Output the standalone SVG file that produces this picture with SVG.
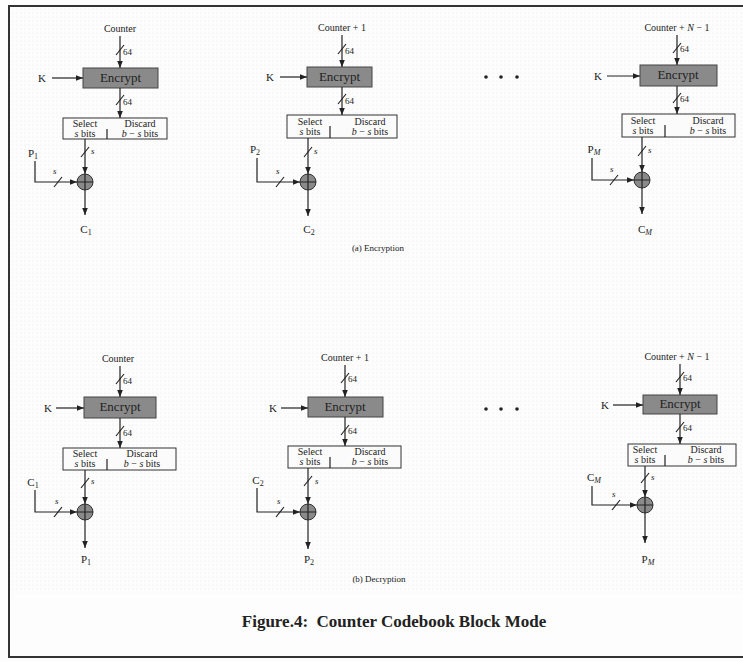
<svg xmlns="http://www.w3.org/2000/svg" width="743" height="662" viewBox="0 0 743 662">
<defs>
<marker id="ah" viewBox="0 0 10 10" refX="10" refY="5" markerWidth="7" markerHeight="7" markerUnits="userSpaceOnUse" orient="auto"><path d="M0,1 L10,5 L0,9 z" fill="#222"/></marker>
<pattern id="dots" width="4" height="4" patternUnits="userSpaceOnUse"><circle cx="1" cy="1" r="0.6" fill="#cfcfcf"/></pattern>
<style>
.t{font-family:"Liberation Serif",serif;font-size:10px;fill:#222;text-anchor:middle}
.l{font-family:"Liberation Serif",serif;font-size:11px;fill:#222;text-anchor:middle}
.s{font-family:"Liberation Serif",serif;font-size:9px;fill:#222}
.enc{fill:#8a8a8a;stroke:#444;stroke-width:1}
.et{font-family:"Liberation Serif",serif;font-size:13px;fill:#222;text-anchor:middle}
.sel{fill:#fbfbfb;stroke:#333;stroke-width:1}
.ln{stroke:#222;stroke-width:1.2;fill:none}
.ar{stroke:#222;stroke-width:1.2;fill:none;marker-end:url(#ah)}
.x{fill:#8a8a8a;stroke:#333;stroke-width:1}
.cap{font-family:"Liberation Serif",serif;font-size:17px;font-weight:bold;fill:#222;text-anchor:middle}
</style>
</defs>
<rect width="743" height="662" fill="#fdfdfd"/>
<rect x="10" y="8" width="733" height="585" fill="url(#dots)" opacity="0.5"/>
<rect x="9" y="6" width="745" height="651" fill="none" stroke="#333" stroke-width="2"/>

<g id="enc1">
<text class="t" x="120" y="32">Counter</text>
<rect class="enc" x="83" y="68" width="75" height="20"/>
<text class="et" x="120.5" y="82">Encrypt</text>
<text class="l" x="42" y="82">K</text>
<rect class="sel" x="63" y="118" width="104" height="21"/>
<line class="ln" x1="107" y1="129" x2="107" y2="139"/>
<text class="t" x="85" y="127">Select</text>
<text class="t" x="85" y="137"><tspan font-style="italic">s</tspan> bits</text>
<text class="t" x="140" y="127">Discard</text>
<text class="t" x="140" y="137"><tspan font-style="italic">b</tspan> − <tspan font-style="italic">s</tspan> bits</text>
<circle class="x" cx="85" cy="182" r="8"/>
<path class="ln" d="M77,182 H93 M85,174 V190"/>
<text class="l" x="33" y="157">P<tspan font-size="8" dy="2">1</tspan></text>
<text class="l" x="86" y="233">C<tspan font-size="8" dy="2">1</tspan></text>
</g>

<g id="enc2">
<text class="t" x="342" y="31">Counter + 1</text>
<rect class="enc" x="307" y="67" width="65" height="20"/>
<text class="et" x="339.5" y="81">Encrypt</text>
<text class="l" x="270" y="81">K</text>
<rect class="sel" x="287" y="115" width="110" height="23"/>
<line class="ln" x1="330" y1="126" x2="330" y2="138"/>
<text class="t" x="310" y="125">Select</text>
<text class="t" x="310" y="135"><tspan font-style="italic">s</tspan> bits</text>
<text class="t" x="370" y="125">Discard</text>
<text class="t" x="370" y="135"><tspan font-style="italic">b</tspan> − <tspan font-style="italic">s</tspan> bits</text>
<circle class="x" cx="308" cy="182" r="8"/>
<path class="ln" d="M300,182 H316 M308,174 V190"/>
<text class="l" x="255" y="153">P<tspan font-size="8" dy="2">2</tspan></text>
<text class="l" x="309" y="233">C<tspan font-size="8" dy="2">2</tspan></text>
</g>

<g id="enc3">
<text class="t" x="677" y="31">Counter + <tspan font-style="italic">N</tspan> − 1</text>
<rect class="enc" x="640" y="65" width="77" height="21"/>
<text class="et" x="678" y="79">Encrypt</text>
<text class="l" x="598" y="80">K</text>
<rect class="sel" x="622" y="114" width="113" height="23"/>
<line class="ln" x1="665" y1="125" x2="665" y2="137"/>
<text class="t" x="643" y="124">Select</text>
<text class="t" x="643" y="134"><tspan font-style="italic">s</tspan> bits</text>
<text class="t" x="708" y="124">Discard</text>
<text class="t" x="708" y="134"><tspan font-style="italic">b</tspan> − <tspan font-style="italic">s</tspan> bits</text>
<circle class="x" cx="642" cy="180" r="8"/>
<path class="ln" d="M634,180 H650 M642,172 V188"/>
<text class="l" x="594" y="153">P<tspan font-size="8" dy="2" font-style="italic">M</tspan></text>
<text class="l" x="645" y="233">C<tspan font-size="8" dy="2" font-style="italic">M</tspan></text>
</g>

<g id="dots-a" fill="#222">
<circle cx="486" cy="77" r="1.8"/><circle cx="501" cy="77" r="1.8"/><circle cx="517" cy="77" r="1.8"/>
</g>
<text class="s" x="378" y="251" text-anchor="middle">(a) Encryption</text>

<g id="dec1">
<text class="t" x="118" y="362">Counter</text>
<rect class="enc" x="84" y="397" width="72" height="21"/>
<text class="et" x="120" y="411">Encrypt</text>
<text class="l" x="48" y="412">K</text>
<rect class="sel" x="63" y="448" width="113" height="22"/>
<line class="ln" x1="107" y1="459" x2="107" y2="470"/>
<text class="t" x="85" y="457">Select</text>
<text class="t" x="85" y="467"><tspan font-style="italic">s</tspan> bits</text>
<text class="t" x="142" y="457">Discard</text>
<text class="t" x="142" y="467"><tspan font-style="italic">b</tspan> − <tspan font-style="italic">s</tspan> bits</text>
<circle class="x" cx="85" cy="512" r="8"/>
<path class="ln" d="M77,512 H93 M85,504 V520"/>
<text class="l" x="33" y="486">C<tspan font-size="8" dy="2">1</tspan></text>
<text class="l" x="86" y="563">P<tspan font-size="8" dy="2">1</tspan></text>
</g>

<g id="dec2">
<text class="t" x="345" y="361">Counter + 1</text>
<rect class="enc" x="308" y="397" width="75" height="20"/>
<text class="et" x="345" y="411">Encrypt</text>
<text class="l" x="273" y="412">K</text>
<rect class="sel" x="288" y="446" width="113" height="22"/>
<line class="ln" x1="330" y1="457" x2="330" y2="468"/>
<text class="t" x="310" y="455">Select</text>
<text class="t" x="310" y="465"><tspan font-style="italic">s</tspan> bits</text>
<text class="t" x="370" y="455">Discard</text>
<text class="t" x="370" y="465"><tspan font-style="italic">b</tspan> − <tspan font-style="italic">s</tspan> bits</text>
<circle class="x" cx="308" cy="512" r="8"/>
<path class="ln" d="M300,512 H316 M308,504 V520"/>
<text class="l" x="258" y="484">C<tspan font-size="8" dy="2">2</tspan></text>
<text class="l" x="309" y="563">P<tspan font-size="8" dy="2">2</tspan></text>
</g>

<g id="dec3">
<text class="t" x="677" y="360">Counter + <tspan font-style="italic">N</tspan> − 1</text>
<rect class="enc" x="643" y="395" width="74" height="19"/>
<text class="et" x="680" y="408">Encrypt</text>
<text class="l" x="605" y="409">K</text>
<rect class="sel" x="628" y="444" width="108" height="22"/>
<line class="ln" x1="665" y1="455" x2="665" y2="466"/>
<text class="t" x="645" y="453">Select</text>
<text class="t" x="645" y="463"><tspan font-style="italic">s</tspan> bits</text>
<text class="t" x="706" y="453">Discard</text>
<text class="t" x="706" y="463"><tspan font-style="italic">b</tspan> − <tspan font-style="italic">s</tspan> bits</text>
<circle class="x" cx="645" cy="505" r="8"/>
<path class="ln" d="M637,505 H653 M645,497 V513"/>
<text class="l" x="594" y="481">C<tspan font-size="8" dy="2" font-style="italic">M</tspan></text>
<text class="l" x="648" y="563">P<tspan font-size="8" dy="2" font-style="italic">M</tspan></text>
</g>

<g id="dots-b" fill="#222">
<circle cx="486" cy="409" r="1.8"/><circle cx="501" cy="409" r="1.8"/><circle cx="517" cy="409" r="1.8"/>
</g>
<text class="s" x="379" y="582" text-anchor="middle">(b) Decryption</text>

<text class="cap" x="394" y="627">Figure.4:&#160; Counter Codebook Block Mode</text>

<g id="connectors">
<line class="ar" x1="120" y1="36" x2="120" y2="68"/>
<line class="ln" x1="116" y1="55" x2="124" y2="45"/><text class="s" x="123" y="55">64</text>
<line class="ar" x1="52" y1="78" x2="83" y2="78"/>
<line class="ar" x1="120" y1="88" x2="120" y2="118"/>
<line class="ln" x1="116" y1="105" x2="124" y2="95"/><text class="s" x="123" y="105">64</text>
<line class="ar" x1="85" y1="139" x2="85" y2="174"/>
<line class="ln" x1="81" y1="157" x2="89" y2="147"/><text class="s" x="91" y="154" font-style="italic">s</text>
<polyline class="ar" points="35,161 35,182 77,182"/>
<line class="ln" x1="54" y1="187" x2="62" y2="177"/><text class="s" x="53" y="174" font-style="italic">s</text>
<line class="ar" x1="85" y1="190" x2="85" y2="215"/>
<line class="ar" x1="342" y1="35" x2="342" y2="67"/>
<line class="ln" x1="338" y1="54" x2="346" y2="44"/><text class="s" x="345" y="54">64</text>
<line class="ar" x1="280" y1="77" x2="307" y2="77"/>
<line class="ar" x1="342" y1="87" x2="342" y2="115"/>
<line class="ln" x1="338" y1="104" x2="346" y2="94"/><text class="s" x="345" y="104">64</text>
<line class="ar" x1="308" y1="138" x2="308" y2="174"/>
<line class="ln" x1="304" y1="157" x2="312" y2="147"/><text class="s" x="314" y="154" font-style="italic">s</text>
<polyline class="ar" points="257,158 257,182 300,182"/>
<line class="ln" x1="276" y1="187" x2="284" y2="177"/><text class="s" x="276" y="174" font-style="italic">s</text>
<line class="ar" x1="308" y1="190" x2="308" y2="216"/>
<line class="ar" x1="677" y1="35" x2="677" y2="65"/>
<line class="ln" x1="673" y1="53" x2="681" y2="43"/><text class="s" x="680" y="52">64</text>
<line class="ar" x1="607" y1="76" x2="640" y2="76"/>
<line class="ar" x1="677" y1="86" x2="677" y2="114"/>
<line class="ln" x1="673" y1="103" x2="681" y2="93"/><text class="s" x="680" y="102">64</text>
<line class="ar" x1="642" y1="137" x2="642" y2="172"/>
<line class="ln" x1="638" y1="156" x2="646" y2="146"/><text class="s" x="648" y="153" font-style="italic">s</text>
<polyline class="ar" points="592,158 592,180 634,180"/>
<line class="ln" x1="610" y1="185" x2="618" y2="175"/><text class="s" x="610" y="172" font-style="italic">s</text>
<line class="ar" x1="642" y1="188" x2="642" y2="214"/>
<line class="ar" x1="120" y1="366" x2="120" y2="397"/>
<line class="ln" x1="116" y1="384" x2="124" y2="374"/><text class="s" x="123" y="384">64</text>
<line class="ar" x1="56" y1="408" x2="84" y2="408"/>
<line class="ar" x1="120" y1="418" x2="120" y2="448"/>
<line class="ln" x1="116" y1="436" x2="124" y2="426"/><text class="s" x="123" y="436">64</text>
<line class="ar" x1="85" y1="470" x2="85" y2="504"/>
<line class="ln" x1="81" y1="488" x2="89" y2="478"/><text class="s" x="91" y="484" font-style="italic">s</text>
<polyline class="ar" points="35,490 35,512 77,512"/>
<line class="ln" x1="54" y1="517" x2="62" y2="507"/><text class="s" x="55" y="504" font-style="italic">s</text>
<line class="ar" x1="85" y1="520" x2="85" y2="548"/>
<line class="ar" x1="345" y1="365" x2="345" y2="397"/>
<line class="ln" x1="341" y1="383" x2="349" y2="373"/><text class="s" x="348" y="382">64</text>
<line class="ar" x1="281" y1="408" x2="308" y2="408"/>
<line class="ar" x1="345" y1="417" x2="345" y2="446"/>
<line class="ln" x1="341" y1="435" x2="349" y2="425"/><text class="s" x="348" y="434">64</text>
<line class="ar" x1="308" y1="468" x2="308" y2="504"/>
<line class="ln" x1="304" y1="486" x2="312" y2="476"/><text class="s" x="315" y="484" font-style="italic">s</text>
<polyline class="ar" points="257,488 257,512 300,512"/>
<line class="ln" x1="276" y1="517" x2="284" y2="507"/><text class="s" x="277" y="504" font-style="italic">s</text>
<line class="ar" x1="308" y1="520" x2="308" y2="549"/>
<line class="ar" x1="680" y1="364" x2="680" y2="395"/>
<line class="ln" x1="676" y1="382" x2="684" y2="372"/><text class="s" x="683" y="381">64</text>
<line class="ar" x1="613" y1="405" x2="643" y2="405"/>
<line class="ar" x1="680" y1="414" x2="680" y2="444"/>
<line class="ln" x1="676" y1="432" x2="684" y2="422"/><text class="s" x="683" y="431">64</text>
<line class="ar" x1="645" y1="466" x2="645" y2="497"/>
<line class="ln" x1="641" y1="483" x2="649" y2="473"/><text class="s" x="651" y="480" font-style="italic">s</text>
<polyline class="ar" points="592,486 592,505 637,505"/>
<line class="ln" x1="612" y1="510" x2="620" y2="500"/><text class="s" x="612" y="497" font-style="italic">s</text>
<line class="ar" x1="645" y1="513" x2="645" y2="543"/>
</g>
</svg>
